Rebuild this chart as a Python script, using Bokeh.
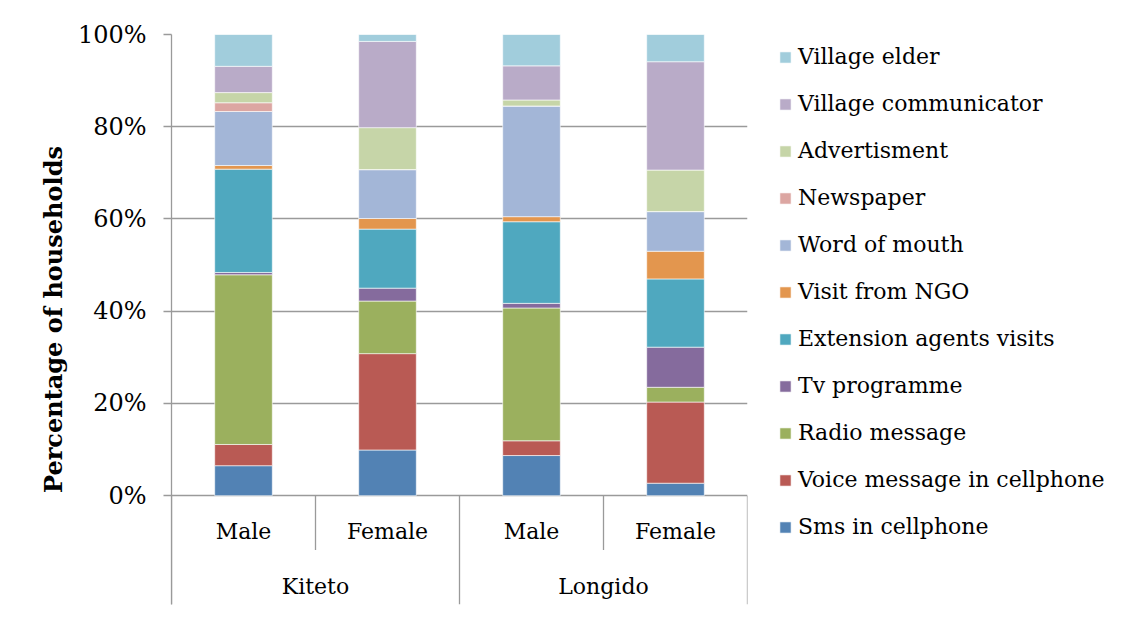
import numpy as np
from bokeh.plotting import figure
from bokeh.models import Legend, LegendItem, FixedTicker, PrintfTickFormatter, Range1d, ColumnDataSource
from bokeh.core.properties import value
from bokeh.embed import file_html
from bokeh.resources import INLINE

# ---- data ----
districts = ["Kiteto", "Longido"]
genders = ["Male", "Female", "Male", "Female"]
series = ["Sms in cellphone", "Voice message in cellphone", "Radio message", "Tv programme",
          "Extension agents visits", "Visit from NGO", "Word of mouth", "Newspaper",
          "Advertisment", "Village communicator", "Village elder"]
sms = [6.5, 9.9, 8.7, 2.7]
voice = [4.6, 20.9, 3.2, 17.6]
radio = [36.8, 11.4, 28.8, 3.2]
tv = [0.5, 2.8, 1.0, 8.7]
ext = [22.4, 12.8, 17.7, 14.8]
ngo = [0.8, 2.3, 1.1, 6.0]
wom = [11.7, 10.6, 24.0, 8.6]
news = [1.9, 0.0, 0.0, 0.0]
adv = [2.2, 9.1, 1.3, 9.0]
vc = [5.7, 18.7, 7.4, 23.5]
ve = [6.9, 1.5, 6.8, 5.9]
y_ticks = [0, 20, 40, 60, 80, 100]

colors = ["#5282B4", "#B95A54", "#9BB05E", "#856B9D", "#4FA8BF", "#E3964E",
          "#A3B6D7", "#DCA6A2", "#C6D5A8", "#B9ABC8", "#A1CDDC"]

FONT = "DejaVu Serif"
FS = "22px"
CAT_FS = "22px"
GRID = "#9a9a9a"

values = [sms, voice, radio, tv, ext, ngo, wom, news, adv, vc, ve]
n = len(genders)
x = np.arange(n) + 0.5
data = {"x": x}
for name, v in zip(series, values):
    data[name] = v
source = ColumnDataSource(data)

ymin = -23.6
p = figure(frame_width=576, frame_height=570, output_backend="svg", toolbar_location=None,
           x_range=Range1d(0, n), y_range=Range1d(ymin, 100),
           x_axis_location=None, min_border_left=171, min_border_top=34,
           min_border_bottom=4, min_border_right=10)
p.outline_line_color = None
p.background_fill_color = "white"
p.border_fill_color = "white"

renderers = p.vbar_stack(series, x="x", width=0.4, color=colors, source=source,
                         line_color="white", line_width=0.6)

# grid
p.xgrid.visible = False
p.ygrid.ticker = FixedTicker(ticks=y_ticks)
p.ygrid.grid_line_color = GRID
p.ygrid.grid_line_width = 1.3

# y axis
ax = p.yaxis[0]
ax.ticker = FixedTicker(ticks=y_ticks)
ax.formatter = PrintfTickFormatter(format="%d%%")
ax.axis_line_color = GRID
ax.axis_line_width = 1.3
ax.major_tick_line_color = GRID
ax.major_tick_line_width = 1.3
ax.major_tick_out = 8
ax.major_tick_in = 0
ax.minor_tick_line_color = None
ax.major_label_text_font = FONT
ax.major_label_text_font_size = "24px"
ax.major_label_text_color = "black"
ax.major_label_standoff = 17
ax.axis_label = "Percentage of households"
ax.axis_label_text_font = FONT
ax.axis_label_text_font_style = "bold"
ax.axis_label_text_font_size = "24px"
ax.axis_label_text_color = "black"
ax.axis_label_standoff = 7

# category table below the bars
sep_x = np.arange(n + 1)
sep_y1 = [ymin if i % 2 == 0 else ymin / 2 for i in sep_x]
p.segment(x0=sep_x, y0=[0] * len(sep_x), x1=sep_x, y1=sep_y1, line_color=GRID, line_width=1.3)
p.text(x=x, y=[ymin * 0.33] * n, text=genders, text_font=value(FONT), text_font_size=CAT_FS,
       text_align="center", text_baseline="middle", text_color="black")
dx = np.arange(len(districts)) * 2 + 1.0
p.text(x=dx, y=[ymin * 0.835] * len(districts), text=districts, text_font=value(FONT),
       text_font_size=CAT_FS, text_align="center", text_baseline="middle", text_color="black")

items = [LegendItem(label=s, renderers=[r]) for s, r in zip(series, renderers)][::-1]
legend = Legend(items=items, location=(31, 65), padding=0, margin=0,
                glyph_width=14, glyph_height=14, label_height=24, spacing=22,
                label_standoff=6, border_line_color=None, background_fill_alpha=0,
                label_text_font=FONT, label_text_font_size=FS, label_text_color="black")
p.add_layout(legend, "right")

open("out.html", "w").write(file_html(p, INLINE))
